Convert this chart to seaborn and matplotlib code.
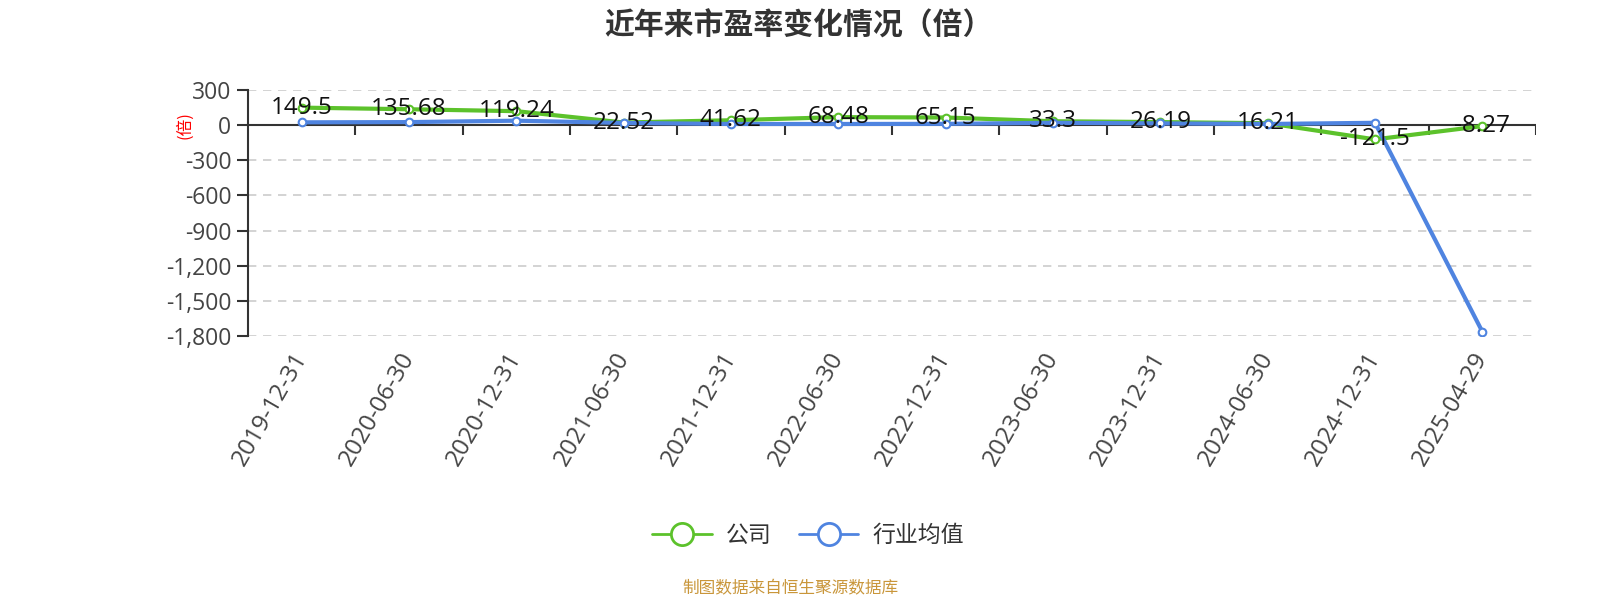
import matplotlib
matplotlib.use("Agg")
import matplotlib.pyplot as plt
from matplotlib.lines import Line2D
from matplotlib.ticker import FuncFormatter
import seaborn as sns
import pandas as pd
import numpy as np

dates = ["2019-12-31", "2020-06-30", "2020-12-31", "2021-06-30", "2021-12-31", "2022-06-30",
         "2022-12-31", "2023-06-30", "2023-12-31", "2024-06-30", "2024-12-31", "2025-04-29"]
company = [149.5, 135.68, 119.24, 22.52, 41.62, 68.48, 65.15, 33.3, 26.19, 16.21, -121.5, -8.27]
industry = [24, 26, 38, 19, 10, 10, 11, 20, 15, 10, 20, -1763]
company_labels = ["149.5", "135.68", "119.24", "22.52", "41.62", "68.48", "65.15", "33.3",
                  "26.19", "16.21", "-121.5", "-8.27"]
yticks = [300, 0, -300, -600, -900, -1200, -1500, -1800]

GREEN = "#5cc22b"
BLUE = "#4f84e0"

sns.set_theme(style="white")
plt.rcParams["font.family"] = ["Open Sans", "Noto Sans CJK SC", "DejaVu Sans"]
plt.rcParams["axes.unicode_minus"] = False
CJK = ["Noto Sans CJK SC", "DejaVu Sans"]

fig = plt.figure(figsize=(16, 6), dpi=100)
ax = fig.add_axes([0.155, 0.44, 0.805, 0.41])

pos = list(range(len(dates)))
df = pd.DataFrame({"pos": pos, "公司": company, "行业均值": industry})

sns.lineplot(data=df, x="pos", y="公司", ax=ax, color=GREEN, linewidth=3,
             marker="o", markersize=5.5, markerfacecolor="white", markeredgecolor=GREEN,
             markeredgewidth=1.5, zorder=3)
sns.lineplot(data=df, x="pos", y="行业均值", ax=ax, color=BLUE, linewidth=3,
             marker="o", markersize=5.5, markerfacecolor="white", markeredgecolor=BLUE,
             markeredgewidth=1.5, zorder=4)

for x, y, t in zip(pos, company, company_labels):
    ax.text(x, y, t, ha="center", va="center", fontsize=17.5, color="#111111", zorder=6)

ax.set_xlim(-0.5, len(dates) - 0.5)
ax.set_ylim(-1800, 300)
ax.set_yticks(yticks)
ax.yaxis.set_major_formatter(FuncFormatter(lambda v, p: f"{int(v):,}"))
ax.set_xticks(pos)
ax.set_xticklabels(dates, rotation=60, ha="right", va="center", rotation_mode="anchor",
                   fontsize=17.5, color="#444444")
ax.tick_params(axis="x", length=0, pad=13)
ax.tick_params(axis="y", length=8, width=1.5, color="#333333", labelsize=16.5,
               labelcolor="#444444", pad=4, left=True)
ax.set_xlabel("")
ax.set_ylabel("")

for s in ["top", "right", "bottom"]:
    ax.spines[s].set_visible(False)
ax.spines["left"].set_color("#333333")
ax.spines["left"].set_linewidth(1.5)

for yv in yticks:
    if yv != 0:
        ax.axhline(yv, color="#cccccc", linestyle=(0, (5, 4)), linewidth=1.2, zorder=0)
ax.axhline(0, color="#333333", linewidth=1.5, zorder=2)
bounds = np.arange(0.5, len(dates) + 0.5, 1.0)
ax.vlines(bounds, -85, 0, color="#333333", linewidth=1.5, zorder=2)

ax.text(-0.049, 0.0, "(倍)", transform=ax.get_yaxis_transform(), rotation=90,
        ha="center", va="center", fontsize=12, color="red", family=CJK)

fig.text(0.499, 0.957, "近年来市盈率变化情况（倍）", ha="center", va="center",
         fontsize=21.5, fontweight="bold", color="#333333", family=CJK)

handles = [
    Line2D([0], [0], color=GREEN, linewidth=2, marker="o", markersize=16,
           markerfacecolor="white", markeredgecolor=GREEN, markeredgewidth=2),
    Line2D([0], [0], color=BLUE, linewidth=2, marker="o", markersize=16,
           markerfacecolor="white", markeredgecolor=BLUE, markeredgewidth=2),
]
leg = fig.legend(handles, ["公司", "行业均值"], loc="center", bbox_to_anchor=(0.505, 0.108),
                 ncol=2, frameon=False, fontsize=16.5, labelcolor="#333333", handlelength=2.6,
                 columnspacing=1.2, handletextpad=0.6, prop={"family": CJK, "size": 16.5})

fig.text(0.494, 0.018, "制图数据来自恒生聚源数据库", ha="center", va="center",
         fontsize=12, color="#C9963A", family=CJK)

fig.savefig("out.png", dpi=100, facecolor="white")
